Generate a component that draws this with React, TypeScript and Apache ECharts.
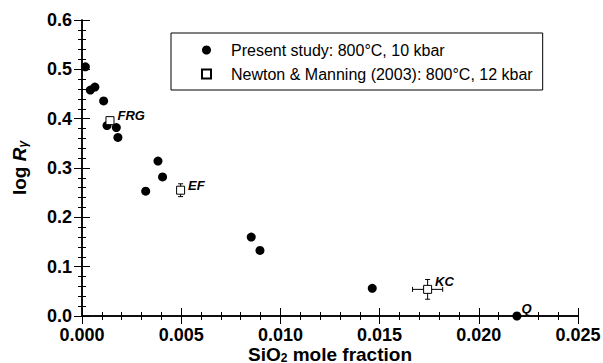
import React, { useEffect, useRef } from "react";
import * as echarts from "echarts";

// Present study: 800°C, 10 kbar
const studyX = [0.00017, 0.00042, 0.00065, 0.00109, 0.00126, 0.00173, 0.00181, 0.00321, 0.00383, 0.00406, 0.00853, 0.00897, 0.01463, 0.02192];
const studyY = [0.505, 0.458, 0.464, 0.436, 0.386, 0.382, 0.362, 0.253, 0.314, 0.282, 0.160, 0.133, 0.056, 0.0];
const studyLabels = ["", "", "", "", "", "", "", "", "", "", "", "", "", "Q"];

// Newton & Manning (2003): 800°C, 12 kbar
const nmX = [0.00141, 0.00497, 0.01742];
const nmY = [0.396, 0.255, 0.054];
const nmXErr = [0, 0, 0.00076];
const nmYErr = [0, 0.013, 0.02];
const nmLabels = ["FRG", "EF", "KC"];

const xTicks = [0, 0.005, 0.01, 0.015, 0.02, 0.025];
const yTicks = [0, 0.1, 0.2, 0.3, 0.4, 0.5, 0.6];

const legendNames = ["Present study: 800°C, 10 kbar", "Newton & Manning (2003): 800°C, 12 kbar"];

const FONT = "Liberation Sans, Arial, sans-serif";

export default function App() {
  const ref = useRef<HTMLDivElement>(null);
  useEffect(() => {
    if (!ref.current) return;
    const chart = echarts.init(ref.current, null, { renderer: "svg" });
    const axisCommon = {
      type: "value" as const,
      axisLine: { show: true, lineStyle: { color: "#000", width: 1.5 } },
      axisTick: { show: true, inside: true, length: 8, lineStyle: { color: "#000", width: 1 } },
      minorTick: { show: true, splitNumber: 5, length: 4, lineStyle: { color: "#000", width: 1 } },
      splitLine: { show: false },
    };
    const labelOffsets: Record<string, number[]> = { FRG: [-2, -5], EF: [-2, -5], KC: [-2, -8], Q: [-5, -8] };
    const titleRich = {
      a: { fontWeight: "bold", fontSize: 19, lineHeight: 16, fontFamily: FONT, color: "#000" },
      r: { fontWeight: "bold", fontStyle: "italic", fontSize: 19, lineHeight: 16, fontFamily: FONT, color: "#000" },
      s: { fontWeight: "bold", fontSize: 12, lineHeight: 12, fontFamily: FONT, color: "#000", padding: [8, 0, 0, 0] },
      g: { fontWeight: "bold", fontStyle: "italic", fontSize: 12, lineHeight: 12, fontFamily: FONT, color: "#000", padding: [8, 0, 0, 0] },
    };
    const option: any = {
      animation: false,
      textStyle: { fontFamily: FONT },
      grid: { left: 82, right: 25, top: 20, bottom: 47, outerBoundsMode: "none", containLabel: false },
      legend: {
        data: legendNames,
        orient: "vertical",
        left: 171,
        top: 33,
        borderColor: "#000",
        borderWidth: 1,
        borderRadius: 0,
        padding: [9, 10, 8, 30],
        itemWidth: 9,
        itemHeight: 9,
        itemGap: 8,
        textStyle: { fontFamily: FONT, fontSize: 16, color: "#000", padding: [0, 0, 0, 15] },
      },
      xAxis: [
        {
          ...axisCommon,
          min: xTicks[0],
          max: xTicks[xTicks.length - 1],
          interval: 0.005,
          position: "bottom",
          axisLabel: {
            color: "#000",
            fontWeight: "bold",
            fontSize: 18,
            lineHeight: 14,
            fontFamily: FONT,
            margin: 12,
            formatter: (v: number) => v.toFixed(3),
          },
          name: "{a|SiO}{s|2}{a| mole fraction}",
          nameLocation: "middle",
          nameGap: 30,
          nameMoveOverlap: false,
          nameTextStyle: { rich: titleRich },
        },
        {
          ...axisCommon,
          min: xTicks[0],
          max: xTicks[xTicks.length - 1],
          interval: 0.005,
          position: "top",
          axisLabel: { show: false },
        },
      ],
      yAxis: [
        {
          ...axisCommon,
          min: yTicks[0],
          max: yTicks[yTicks.length - 1],
          interval: 0.1,
          position: "left",
          axisLabel: {
            color: "#000",
            fontWeight: "bold",
            fontSize: 18,
            lineHeight: 14,
            fontFamily: FONT,
            margin: 10,
            formatter: (v: number) => v.toFixed(1),
          },
          name: "{a|log }{r|R}{g|γ}",
          nameLocation: "middle",
          nameRotate: 90,
          nameGap: 55,
          nameMoveOverlap: false,
          nameTextStyle: { rich: titleRich },
        },
        {
          ...axisCommon,
          min: yTicks[0],
          max: yTicks[yTicks.length - 1],
          interval: 0.1,
          position: "right",
          axisLabel: { show: false },
        },
      ],
      series: [
        {
          name: "errors",
          type: "custom",
          xAxisIndex: 0,
          yAxisIndex: 0,
          silent: true,
          data: nmX.map((x, i) => [x, nmY[i], nmXErr[i], nmYErr[i]]),
          renderItem: (params: any, api: any) => {
            const x = api.value(0), y = api.value(1), ex = api.value(2), ey = api.value(3);
            const children: any[] = [];
            const style = { stroke: "#000", lineWidth: 1 };
            const cap = 2.5;
            if (ey > 0) {
              const p1 = api.coord([x, y - ey]);
              const p2 = api.coord([x, y + ey]);
              children.push({ type: "line", shape: { x1: p1[0], y1: p1[1], x2: p2[0], y2: p2[1] }, style });
              children.push({ type: "line", shape: { x1: p1[0] - cap, y1: p1[1], x2: p1[0] + cap, y2: p1[1] }, style });
              children.push({ type: "line", shape: { x1: p2[0] - cap, y1: p2[1], x2: p2[0] + cap, y2: p2[1] }, style });
            }
            if (ex > 0) {
              const p1 = api.coord([x - ex, y]);
              const p2 = api.coord([x + ex, y]);
              children.push({ type: "line", shape: { x1: p1[0], y1: p1[1], x2: p2[0], y2: p2[1] }, style });
              children.push({ type: "line", shape: { x1: p1[0], y1: p1[1] - cap, x2: p1[0], y2: p1[1] + cap }, style });
              children.push({ type: "line", shape: { x1: p2[0], y1: p2[1] - cap, x2: p2[0], y2: p2[1] + cap }, style });
            }
            return { type: "group", children };
          },
          z: 2,
        },
        {
          name: legendNames[0],
          type: "scatter",
          symbol: "circle",
          symbolSize: 9,
          itemStyle: { color: "#000", opacity: 1 },
          data: studyX.map((x, i) => ({ value: [x, studyY[i]], name: studyLabels[i] })),
          label: {
            show: true,
            position: "right",
            formatter: (p: any) => p.name,
            fontWeight: "bold",
            fontStyle: "italic",
            fontSize: 13,
            fontFamily: FONT,
            color: "#000",
            offset: labelOffsets.Q,
          },
          z: 3,
        },
        {
          name: legendNames[1],
          type: "scatter",
          symbol: "rect",
          symbolSize: 8,
          itemStyle: { color: "#fff", borderColor: "#000", borderWidth: 1, opacity: 1 },
          data: nmX.map((x, i) => ({
            value: [x, nmY[i]],
            name: nmLabels[i],
            label: { offset: labelOffsets[nmLabels[i]] },
          })),
          label: {
            show: true,
            position: "right",
            formatter: (p: any) => p.name,
            fontWeight: "bold",
            fontStyle: "italic",
            fontSize: 13,
            fontFamily: FONT,
            color: "#000",
          },
          z: 4,
        },
      ],
    };
    chart.setOption(option);
    return () => chart.dispose();
  }, []);
  return <div ref={ref} style={{ position: "fixed", left: 0, top: 0, width: 603, height: 363, background: "#fff" }} />;
}
